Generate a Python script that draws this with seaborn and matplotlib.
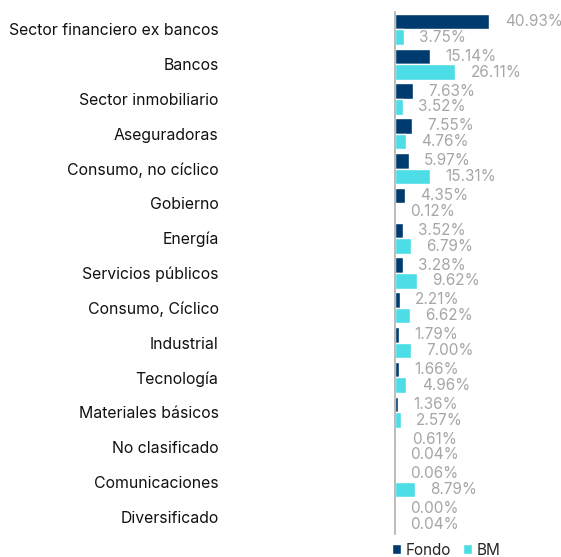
import matplotlib
matplotlib.use("Agg")
import matplotlib.pyplot as plt
import seaborn as sns
import pandas as pd
import numpy as np

categories = ["Sector financiero ex bancos", "Bancos", "Sector inmobiliario", "Aseguradoras",
              "Consumo, no cíclico", "Gobierno", "Energía", "Servicios públicos",
              "Consumo, Cíclico", "Industrial", "Tecnología", "Materiales básicos",
              "No clasificado", "Comunicaciones", "Diversificado"]
fondo = [40.93, 15.14, 7.63, 7.55, 5.97, 4.35, 3.52, 3.28, 2.21, 1.79, 1.66, 1.36, 0.61, 0.06, 0.00]
bm = [3.75, 26.11, 3.52, 4.76, 15.31, 0.12, 6.79, 9.62, 6.62, 7.00, 4.96, 2.57, 0.04, 8.79, 0.04]

df = pd.DataFrame({
    "sector": categories * 2,
    "valor": fondo + bm,
    "serie": ["Fondo"] * len(categories) + ["BM"] * len(categories),
})

sns.set_style("white")
plt.rcParams['font.family'] = ['Inter', 'DejaVu Sans']

fig = plt.figure(figsize=(5.61, 5.57), dpi=100)
ax = fig.add_axes([395 / 561, 1 - 534 / 557, 166 / 561, 522 / 557])

sns.barplot(data=df, y="sector", x="valor", hue="serie", orient="h",
            palette={"Fondo": "#003b6f", "BM": "#4ddde6"}, width=0.9, ax=ax,
            legend=True, saturation=1)

for cont in ax.containers:
    ax.bar_label(cont, labels=[f"{v:.2f}%" for v in cont.datavalues],
                 padding=11, color="#a6a6a6", fontsize=11)

ax.set_xlim(0, 72)
ax.set_ylim(len(categories) - 0.5, -0.5)
ax.set_xlabel("")
ax.set_ylabel("")
ax.set_xticks([])
for s in ["top", "right", "bottom"]:
    ax.spines[s].set_visible(False)
ax.spines["left"].set_color("#b0b0b0")
ax.spines["left"].set_linewidth(1.2)

ax.tick_params(axis="y", which="major", length=0, pad=127, labelsize=11.4)
ax.set_yticks(np.arange(-0.5, len(categories), 1), minor=True)
ax.tick_params(axis="y", which="minor", length=4, color="#b0b0b0", width=1.2)
for t in ax.get_yticklabels():
    t.set_color("#111111")

leg = ax.legend(loc="upper left", bbox_to_anchor=(-0.055, -0.005), ncol=2, frameon=False,
                handlelength=0.6, handleheight=0.6, handletextpad=0.3, columnspacing=0.8,
                fontsize=11, borderaxespad=0)

fig.savefig("out.png", dpi=100)
plt.close()
